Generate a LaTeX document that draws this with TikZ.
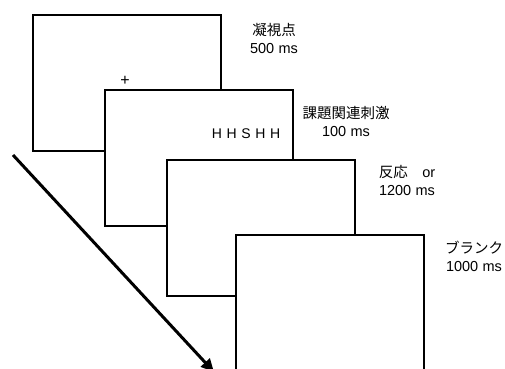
\documentclass[tikz,border=0pt]{standalone}
\usepackage{fontspec}
\setmainfont{Liberation Sans}
\newfontfamily\jp{Noto Sans CJK JP}
\usetikzlibrary{arrows.meta}
\newcommand{\msgap}{\hspace{0.3em}}
\begin{document}
\begin{tikzpicture}[x=1pt,y=-1pt,
  screen/.style={draw=black,line width=2pt,fill=white,rectangle,inner sep=0pt,
    minimum width=188pt,minimum height=136pt,anchor=north west},
  lbl/.style={align=center,font=\fontsize{14.5}{18}\selectfont,inner sep=0pt},
  stim/.style={font=\fontsize{14}{16}\selectfont,inner sep=0pt}]
\useasboundingbox (0,0) rectangle (505,368);
\clip (0,0) rectangle (505,368);
\node[screen] (s1) at (32,14) {};
\node[stim,font=\fontsize{16}{16}\selectfont] (fix) at (125,81) {+};
\node[screen] (s2) at (104,89) {};
\node[stim] (hh) at (246,134) {H\hspace{0.33em}H\hspace{0.33em}S\hspace{0.33em}H\hspace{0.33em}H};
\node[screen] (s3) at (166,159) {};
\node[screen] (s4) at (235,234) {};
\node[lbl] (t1) at (274,38) {{\jp 凝視点}\\500\msgap ms};
\node[lbl] (t2) at (346,121) {{\jp 課題関連刺激}\\100\msgap ms};
\node[lbl] (t3) at (407,180) {{\jp 反応　}or\\1200\msgap ms};
\node[lbl] (t4) at (474,256) {{\jp ブランク}\\1000\msgap ms};
\coordinate (a0) at (13,155);
\coordinate (a1) at (214,372);
\draw[line width=3pt,-{Triangle[length=13pt,width=12pt]}] (a0) -- (a1);
\end{tikzpicture}
\end{document}
